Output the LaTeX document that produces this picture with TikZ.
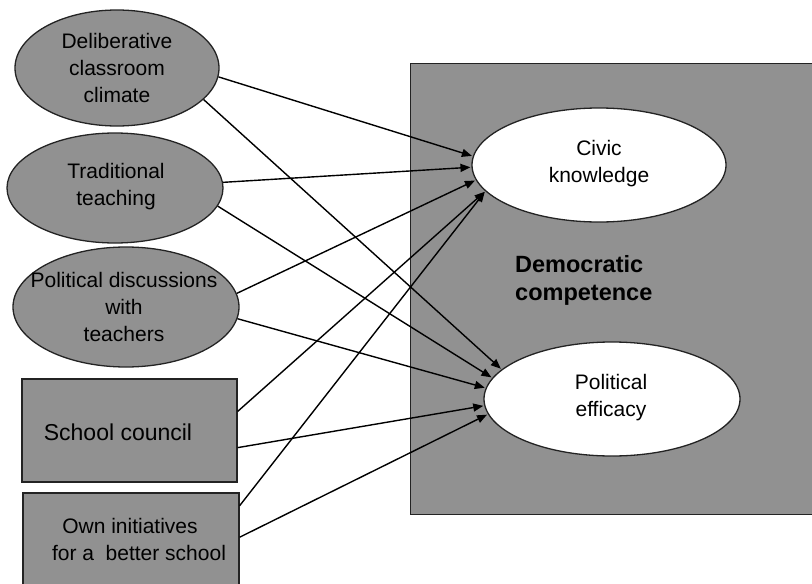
\documentclass[tikz,border=0pt]{standalone}
\usepackage{fontspec}
\setmainfont{Liberation Sans}
\usetikzlibrary{arrows.meta,shapes.geometric}
\definecolor{boxgray}{RGB}{145,145,145}
\definecolor{edgecol}{RGB}{35,35,35}
\begin{document}
\begin{tikzpicture}[x=1pt,y=-1pt,
  src/.style={draw=edgecol,line width=1.3pt,fill=boxgray,inner sep=0pt},
  srcell/.style={src,ellipse},
  srcbox/.style={src,rectangle},
  tgt/.style={draw=edgecol,line width=1.3pt,fill=white,ellipse,inner sep=0pt},
  lbl/.style={align=center,font=\fontsize{21}{27}\selectfont,inner sep=0pt},
  arr/.style={line width=1.4pt,-{Triangle[length=10pt,width=8pt]},shorten >=1pt}]
\useasboundingbox (0,0) rectangle (812,584);
\clip (0,0) rectangle (812,584);
% big container
\node[src,minimum width=420pt,minimum height=451pt,anchor=north west] (dc) at (410,63) {};
\node[align=left,anchor=west,inner sep=0pt,font=\fontsize{23.5}{28}\selectfont\bfseries] (dctext) at (515,280) {Democratic\\competence};
% targets
\node[tgt,minimum width=254pt,minimum height=114pt] (civ) at (599,165) {};
\node[lbl] (civt) at (599,164) {Civic\\knowledge};
\node[tgt,minimum width=256pt,minimum height=114pt] (eff) at (612,399) {};
\node[lbl] (efft) at (611,398) {Political\\efficacy};
% sources
\node[srcell,minimum width=204pt,minimum height=116pt] (e1) at (117,68) {};
\node[lbl] (e1t) at (117,68) {Deliberative\\classroom\\climate};
\node[srcell,minimum width=216pt,minimum height=110pt] (e2) at (115,188) {};
\node[lbl] (e2t) at (116,187) {Traditional\\teaching};
\node[srcell,minimum width=226pt,minimum height=120pt] (e3) at (126,307) {};
\node[lbl] (e3t) at (124,307) {Political discussions\\with\\teachers};
\node[srcbox,minimum width=215pt,minimum height=103pt] (sc) at (129.5,430.5) {};
\node[lbl,font=\fontsize{23}{28}\selectfont] (sct) at (118,432) {School council};
\node[srcbox,minimum width=216pt,minimum height=96pt] (oi) at (131,541) {};
\node[lbl] (oit) at (130,539) {Own initiatives\\\hspace*{18pt}for a\ \ better school};
% connectors
\draw[arr] (e1.-5) -- (civ.176);
\draw[arr] (e1.-20) -- (eff.165);
\draw[arr] (e2.3) -- (civ.181);
\draw[arr] (e2.-10) -- (eff.170);
\draw[arr] (e3.7) -- (civ.187);
\draw[arr] (e3.-6) -- (eff.175);
\draw[arr] (sc.10) -- (civ.193);
\draw[arr] (sc.-9) -- (eff.183);
\draw[arr] (oi.18) -- (civ.193);
\draw[arr] (oi.2) -- (eff.187);
\end{tikzpicture}
\end{document}
